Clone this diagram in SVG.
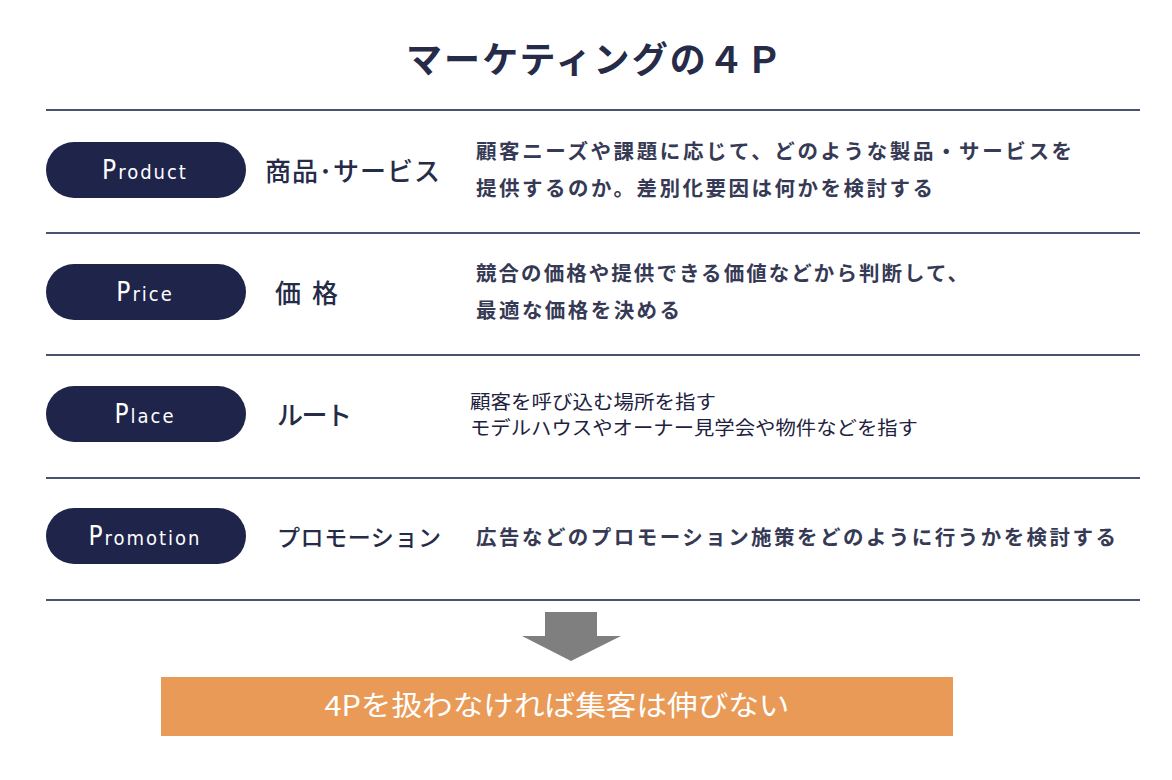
<svg xmlns="http://www.w3.org/2000/svg" width="1172" height="780" viewBox="0 0 1172 780">
<style>
.t{font-family:"Noto Sans CJK JP","Noto Sans",sans-serif;fill:#262b48}
.title{font-size:36px;font-weight:700}
.lbl{font-size:26px;font-weight:500}
.desc{font-size:20.5px;font-weight:700;fill:#363a55}
.desc2{font-size:19px;font-weight:400;fill:#1e2240}
.pill{fill:#1f244a}
.pt{font-family:"DejaVu Sans Condensed","Liberation Sans",sans-serif;font-stretch:condensed;fill:#ffffff;font-size:20px;letter-spacing:2px}
.big{font-size:26px}
.ln{stroke:#4b5270;stroke-width:2}
</style>
<rect width="1172" height="780" fill="#ffffff"/>
<text class="t title" x="594" y="73" text-anchor="middle" textLength="376" lengthAdjust="spacing">マーケティングの４Ｐ</text>
<g id="lines">
<line class="ln" x1="46" y1="110" x2="1140" y2="110"/>
<line class="ln" x1="46" y1="233" x2="1140" y2="233"/>
<line class="ln" x1="46" y1="355" x2="1140" y2="355"/>
<line class="ln" x1="46" y1="478" x2="1140" y2="478"/>
<line class="ln" x1="46" y1="600" x2="1140" y2="600"/>
</g>
<g id="product">
<rect class="pill" x="46" y="142" width="200" height="56" rx="28"/>
<text class="pt" x="145" y="179" text-anchor="middle"><tspan class="big">P</tspan>roduct</text>
<text class="t lbl" x="265" y="181" textLength="175" lengthAdjust="spacing">商品･サービス</text>
<text class="t desc" x="476" y="159" textLength="596" lengthAdjust="spacing">顧客ニーズや課題に応じて、どのような製品・サービスを</text>
<text class="t desc" x="476" y="196" textLength="457" lengthAdjust="spacing">提供するのか。差別化要因は何かを検討する</text>
</g>
<g id="price">
<rect class="pill" x="46" y="264" width="200" height="56" rx="28"/>
<text class="pt" x="145" y="301" text-anchor="middle"><tspan class="big">P</tspan>rice</text>
<text class="t lbl" x="275" y="303" textLength="63" lengthAdjust="spacing">価 格</text>
<text class="t desc" x="476" y="281" textLength="492" lengthAdjust="spacing">競合の価格や提供できる価値などから判断して、</text>
<text class="t desc" x="476" y="318" textLength="204" lengthAdjust="spacing">最適な価格を決める</text>
</g>
<g id="place">
<rect class="pill" x="46" y="386" width="200" height="56" rx="28"/>
<text class="pt" x="145" y="423" text-anchor="middle"><tspan class="big">P</tspan>lace</text>
<text class="t lbl" x="277" y="425" textLength="75" lengthAdjust="spacing">ルート</text>
<text class="t desc2" x="470" y="409" textLength="246" lengthAdjust="spacingAndGlyphs">顧客を呼び込む場所を指す</text>
<text class="t desc2" x="470" y="435" textLength="448" lengthAdjust="spacingAndGlyphs">モデルハウスやオーナー見学会や物件などを指す</text>
</g>
<g id="promotion">
<rect class="pill" x="46" y="508" width="200" height="56" rx="28"/>
<text class="pt" x="145" y="545" text-anchor="middle"><tspan class="big">P</tspan>romotion</text>
<text class="t lbl" x="277" y="546" style="font-size:23px" textLength="164" lengthAdjust="spacing">プロモーション</text>
<text class="t desc" x="476" y="545" textLength="640" lengthAdjust="spacing">広告などのプロモーション施策をどのように行うかを検討する</text>
</g>
<g id="connectors">
<polygon points="545,612 597,612 597,636 621,636 571,661 522,636 545,636" fill="#7f7f7f"/>
</g>
<g id="result">
<rect x="161" y="677" width="792" height="59" fill="#e99a57"/>
<text x="557" y="716" text-anchor="middle" font-family="Noto Sans CJK JP,sans-serif" font-size="28" font-weight="400" fill="#ffffff" textLength="465" lengthAdjust="spacingAndGlyphs">4Pを扱わなければ集客は伸びない</text>
</g>
</svg>
